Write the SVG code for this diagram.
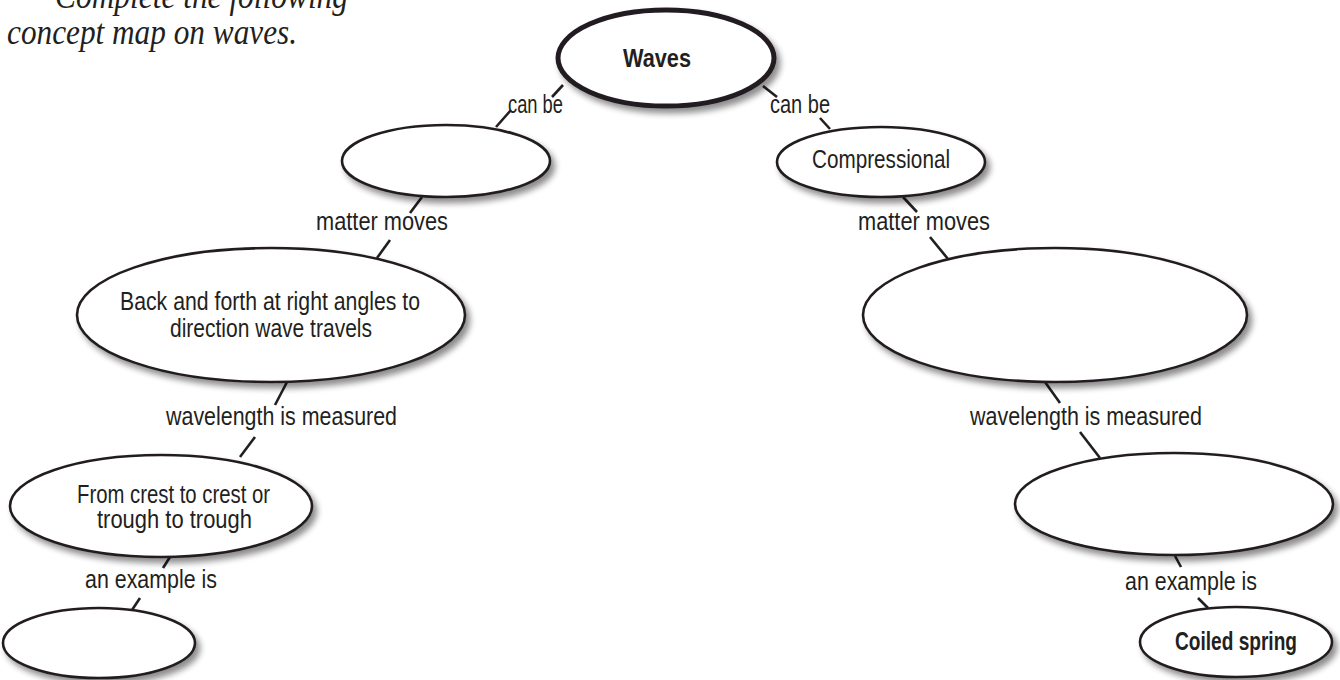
<svg xmlns="http://www.w3.org/2000/svg" width="1340" height="680" viewBox="0 0 1340 680">
<defs>
<filter id="sh" x="-10%" y="-20%" width="125%" height="150%">
<feGaussianBlur in="SourceAlpha" stdDeviation="3"/>
<feOffset dx="4" dy="5" result="b"/>
<feComponentTransfer><feFuncA type="linear" slope="0.45"/></feComponentTransfer>
<feMerge><feMergeNode/><feMergeNode in="SourceGraphic"/></feMerge>
</filter>
</defs>
<style>
.node ellipse{fill:#fff;stroke:#231f20;stroke-width:2.6;filter:url(#sh)}
.t{font-family:"Liberation Sans Narrow","Liberation Sans",Arial,sans-serif;font-size:25px;fill:#231f20;text-anchor:start}
.b{font-weight:bold}
.conn line{stroke:#231f20;stroke-width:2.6;stroke-linecap:butt}
.intro{font-family:"Liberation Serif","Times New Roman",serif;font-style:italic;font-size:35px;fill:#231f20}
</style>
<rect width="1340" height="680" fill="#fff"/>
<text class="intro" x="55" y="8" textLength="293" lengthAdjust="spacingAndGlyphs">Complete the following</text>
<text class="intro" x="7" y="44" textLength="290" lengthAdjust="spacingAndGlyphs">concept map on waves.</text>

<g id="connectors" class="conn">
<line x1="563" y1="85" x2="552" y2="97"/>
<line x1="511" y1="110" x2="496" y2="127"/>
<line x1="763" y1="86" x2="777" y2="97"/>
<line x1="820" y1="118" x2="830" y2="129"/>
<line x1="422" y1="197" x2="410" y2="213"/>
<line x1="390" y1="240" x2="377" y2="258"/>
<line x1="903" y1="197" x2="917" y2="212"/>
<line x1="930" y1="237" x2="948" y2="259"/>
<line x1="287" y1="382" x2="275" y2="405"/>
<line x1="255" y1="437" x2="240" y2="457"/>
<line x1="1045" y1="382" x2="1060" y2="403"/>
<line x1="1080" y1="432" x2="1100" y2="458"/>
<line x1="170" y1="557" x2="163" y2="568"/>
<line x1="140" y1="598" x2="132" y2="610"/>
<line x1="1175" y1="556" x2="1181" y2="567"/>
<line x1="1198" y1="598" x2="1208" y2="608"/>
<text class="t" x="508" y="113" textLength="55" lengthAdjust="spacingAndGlyphs">can be</text>
<text class="t" x="770" y="113" textLength="60" lengthAdjust="spacingAndGlyphs">can be</text>
<text class="t" x="316" y="230" textLength="132" lengthAdjust="spacingAndGlyphs">matter moves</text>
<text class="t" x="858" y="230" textLength="132" lengthAdjust="spacingAndGlyphs">matter moves</text>
<text class="t" x="166" y="425" textLength="231" lengthAdjust="spacingAndGlyphs">wavelength is measured</text>
<text class="t" x="970" y="425" textLength="232" lengthAdjust="spacingAndGlyphs">wavelength is measured</text>
<text class="t" x="85" y="588" textLength="132" lengthAdjust="spacingAndGlyphs">an example is</text>
<text class="t" x="1125" y="590" textLength="132" lengthAdjust="spacingAndGlyphs">an example is</text>
</g>

<g id="waves" class="node">
<ellipse cx="666" cy="58" rx="108" ry="48" style="stroke-width:5"/>
<text class="t b" x="623" y="67" textLength="68" lengthAdjust="spacingAndGlyphs" style="font-size:26px">Waves</text>
</g>
<g id="left1" class="node">
<ellipse cx="446" cy="161" rx="104" ry="36"/>
</g>
<g id="compressional" class="node">
<ellipse cx="881" cy="162" rx="104" ry="35"/>
<text class="t" x="812" y="168" textLength="138" lengthAdjust="spacingAndGlyphs">Compressional</text>
</g>
<g id="left2" class="node">
<ellipse cx="271" cy="315" rx="194" ry="67"/>
<text class="t" x="120" y="310" textLength="300" lengthAdjust="spacingAndGlyphs">Back and forth at right angles to</text>
<text class="t" x="170" y="337" textLength="202" lengthAdjust="spacingAndGlyphs">direction wave travels</text>
</g>
<g id="right2" class="node">
<ellipse cx="1055" cy="315" rx="192" ry="67"/>
</g>
<g id="left3" class="node">
<ellipse cx="161" cy="506" rx="151" ry="51"/>
<text class="t" x="77" y="503" textLength="193" lengthAdjust="spacingAndGlyphs">From crest to crest or</text>
<text class="t" x="97" y="528" textLength="155" lengthAdjust="spacingAndGlyphs">trough to trough</text>
</g>
<g id="right3" class="node">
<ellipse cx="1174" cy="504" rx="159" ry="51"/>
</g>
<g id="left4" class="node">
<ellipse cx="99" cy="643" rx="96" ry="35"/>
</g>
<g id="coiled" class="node">
<ellipse cx="1236" cy="642" rx="96" ry="35"/>
<text class="t b" x="1175" y="650" textLength="122" lengthAdjust="spacingAndGlyphs">Coiled spring</text>
</g>
</svg>
